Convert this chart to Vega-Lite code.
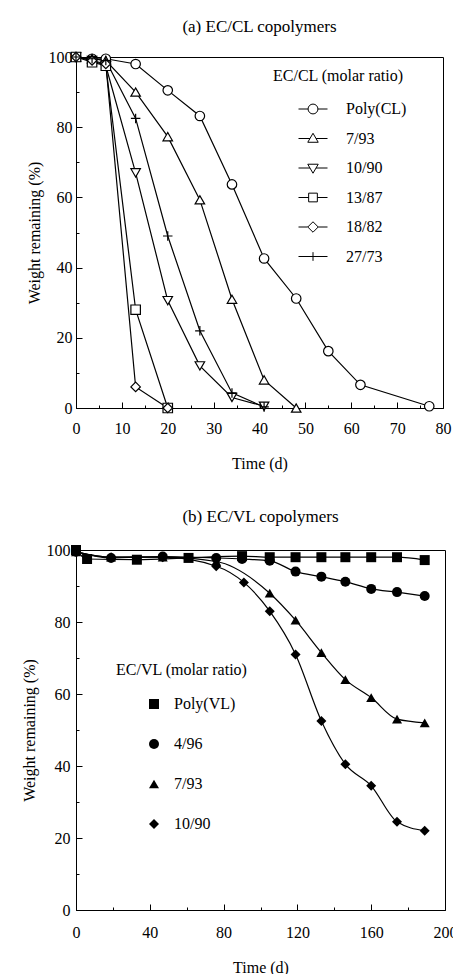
{
  "$schema": "https://vega.github.io/schema/vega-lite/v6.json",
  "background": "white",
  "padding": {"left": 20, "top": 17, "right": 0, "bottom": 0},
  "config": {
    "font": "Liberation Serif",
    "view": {"stroke": "black", "strokeWidth": 1},
    "axis": {
      "grid": false,
      "domainColor": "black",
      "tickColor": "black",
      "labelColor": "black",
      "titleColor": "black",
      "labelFont": "Liberation Serif",
      "titleFont": "Liberation Serif",
      "labelFontSize": 16,
      "titleFontSize": 16,
      "titleFontWeight": "normal",
      "labelPadding": 10,
      "labelOverlap": false,
      "labelFlush": false
    },
    "title": {"font": "Liberation Serif", "fontSize": 17, "fontWeight": "normal", "color": "black"},
    "legend": {
      "labelFont": "Liberation Serif",
      "titleFont": "Liberation Serif",
      "labelFontSize": 16,
      "titleFontSize": 16,
      "titleFontWeight": "normal",
      "labelColor": "black",
      "titleColor": "black",
      "padding": 0
    }
  },
  "datasets": {
    "cl": [
      {"series": "Poly(CL)", "day": 0, "pct": 100},
      {"series": "Poly(CL)", "day": 3.5, "pct": 99.5},
      {"series": "Poly(CL)", "day": 6.5, "pct": 99.5},
      {"series": "Poly(CL)", "day": 13, "pct": 98},
      {"series": "Poly(CL)", "day": 20, "pct": 90.5},
      {"series": "Poly(CL)", "day": 27, "pct": 83.2},
      {"series": "Poly(CL)", "day": 34, "pct": 63.7},
      {"series": "Poly(CL)", "day": 41, "pct": 42.6},
      {"series": "Poly(CL)", "day": 48, "pct": 31.2},
      {"series": "Poly(CL)", "day": 55, "pct": 16.2},
      {"series": "Poly(CL)", "day": 62, "pct": 6.6},
      {"series": "Poly(CL)", "day": 77, "pct": 0.5},
      {"series": "7/93", "day": 0, "pct": 100},
      {"series": "7/93", "day": 3.5, "pct": 99.5},
      {"series": "7/93", "day": 6.5, "pct": 99},
      {"series": "7/93", "day": 13, "pct": 90},
      {"series": "7/93", "day": 20, "pct": 77.3},
      {"series": "7/93", "day": 27, "pct": 59.3},
      {"series": "7/93", "day": 34, "pct": 31},
      {"series": "7/93", "day": 41, "pct": 8},
      {"series": "7/93", "day": 48, "pct": 0},
      {"series": "10/90", "day": 0, "pct": 100},
      {"series": "10/90", "day": 3.5, "pct": 99},
      {"series": "10/90", "day": 6.5, "pct": 97.5},
      {"series": "10/90", "day": 13, "pct": 67},
      {"series": "10/90", "day": 20, "pct": 30.6},
      {"series": "10/90", "day": 27, "pct": 12},
      {"series": "10/90", "day": 34, "pct": 3},
      {"series": "10/90", "day": 41, "pct": 0.5},
      {"series": "13/87", "day": 0, "pct": 100},
      {"series": "13/87", "day": 3.5, "pct": 98.5},
      {"series": "13/87", "day": 6.5, "pct": 97.5},
      {"series": "13/87", "day": 13, "pct": 28},
      {"series": "13/87", "day": 20, "pct": 0},
      {"series": "18/82", "day": 0, "pct": 100},
      {"series": "18/82", "day": 3.5, "pct": 99},
      {"series": "18/82", "day": 6.5, "pct": 98},
      {"series": "18/82", "day": 13, "pct": 6},
      {"series": "18/82", "day": 20, "pct": 0},
      {"series": "27/73", "day": 0, "pct": 100},
      {"series": "27/73", "day": 3.5, "pct": 99.5},
      {"series": "27/73", "day": 6.5, "pct": 99},
      {"series": "27/73", "day": 13, "pct": 82.5},
      {"series": "27/73", "day": 20, "pct": 49},
      {"series": "27/73", "day": 27, "pct": 22},
      {"series": "27/73", "day": 34, "pct": 4.3},
      {"series": "27/73", "day": 41, "pct": 0.3}
    ],
    "vl": [
      {"series": "Poly(VL)", "day": 0, "pct": 100},
      {"series": "Poly(VL)", "day": 6, "pct": 97.5},
      {"series": "Poly(VL)", "day": 33, "pct": 97.3},
      {"series": "Poly(VL)", "day": 61, "pct": 97.8},
      {"series": "Poly(VL)", "day": 90, "pct": 98.3},
      {"series": "Poly(VL)", "day": 105, "pct": 98},
      {"series": "Poly(VL)", "day": 119, "pct": 98},
      {"series": "Poly(VL)", "day": 133, "pct": 98},
      {"series": "Poly(VL)", "day": 146, "pct": 98},
      {"series": "Poly(VL)", "day": 160, "pct": 98},
      {"series": "Poly(VL)", "day": 174, "pct": 98},
      {"series": "Poly(VL)", "day": 189, "pct": 97.2},
      {"series": "4/96", "day": 0, "pct": 99.5},
      {"series": "4/96", "day": 19, "pct": 97.8},
      {"series": "4/96", "day": 47, "pct": 98.2},
      {"series": "4/96", "day": 76, "pct": 97.8},
      {"series": "4/96", "day": 90, "pct": 97.5},
      {"series": "4/96", "day": 105, "pct": 97},
      {"series": "4/96", "day": 119, "pct": 94},
      {"series": "4/96", "day": 133, "pct": 92.6},
      {"series": "4/96", "day": 146, "pct": 91.2},
      {"series": "4/96", "day": 160, "pct": 89.2},
      {"series": "4/96", "day": 174, "pct": 88.3},
      {"series": "4/96", "day": 189, "pct": 87.2},
      {"series": "7/93", "day": 0, "pct": 99.5},
      {"series": "7/93", "day": 19, "pct": 98},
      {"series": "7/93", "day": 47, "pct": 98},
      {"series": "7/93", "day": 76, "pct": 96.8},
      {"series": "7/93", "day": 105, "pct": 88},
      {"series": "7/93", "day": 119, "pct": 80.5},
      {"series": "7/93", "day": 133, "pct": 71.5},
      {"series": "7/93", "day": 146, "pct": 64},
      {"series": "7/93", "day": 160, "pct": 59},
      {"series": "7/93", "day": 174, "pct": 53},
      {"series": "7/93", "day": 189, "pct": 52},
      {"series": "10/90", "day": 0, "pct": 99.5},
      {"series": "10/90", "day": 19, "pct": 98},
      {"series": "10/90", "day": 47, "pct": 98},
      {"series": "10/90", "day": 76, "pct": 95.5},
      {"series": "10/90", "day": 91, "pct": 91},
      {"series": "10/90", "day": 105, "pct": 83},
      {"series": "10/90", "day": 119, "pct": 71},
      {"series": "10/90", "day": 133, "pct": 52.5},
      {"series": "10/90", "day": 146, "pct": 40.5},
      {"series": "10/90", "day": 160, "pct": 34.5},
      {"series": "10/90", "day": 174, "pct": 24.5},
      {"series": "10/90", "day": 189, "pct": 22}
    ]
  },
  "columns": 1,
  "align": "none",
  "spacing": 35,
  "resolve": {"scale": {"shape": "independent"}, "legend": {"shape": "independent"}},
  "concat": [
    {
      "title": {"text": "(a) EC/CL copolymers", "offset": 13},
      "width": 367,
      "height": 351,
      "data": {"name": "cl"},
      "encoding": {
        "x": {
          "field": "day", "type": "quantitative",
          "scale": {"domain": [0, 80], "nice": false},
          "axis": {
            "title": "Time (d)", "titlePadding": 16, "labelPadding": 18,
            "values": [0, 5, 10, 15, 20, 25, 30, 35, 40, 45, 50, 55, 60, 65, 70, 75, 80],
            "labelExpr": "datum.value % 10 === 0 ? datum.label : ''",
            "tickSize": {"condition": {"test": "datum.value % 10 === 0", "value": -6}, "value": -3}
          }
        },
        "y": {
          "field": "pct", "type": "quantitative",
          "scale": {"domain": [0, 100], "nice": false},
          "axis": {
            "title": "Weight remaining (%)", "titlePadding": 6,
            "values": [0, 10, 20, 30, 40, 50, 60, 70, 80, 90, 100],
            "labelExpr": "datum.value % 20 === 0 ? datum.label : ''",
            "tickSize": {"condition": {"test": "datum.value % 20 === 0", "value": -6}, "value": -3}
          }
        }
      },
      "resolve": {"scale": {"shape": "independent"}},
      "layer": [
        {
          "mark": {"type": "line", "color": "black", "strokeWidth": 1.2},
          "encoding": {"detail": {"field": "series"}}
        },
        {
          "mark": {"type": "point", "filled": true, "fill": "white", "stroke": "black", "strokeWidth": 1.2, "size": 90, "opacity": 1},
          "encoding": {
            "shape": {
              "field": "series", "type": "nominal",
              "scale": {
                "domain": ["Poly(CL)", "7/93", "10/90", "13/87", "18/82", "27/73"],
                "range": ["circle", "triangle-up", "triangle-down", "square", "diamond", "M-1,0H1M0,-1V1"]
              },
              "legend": null
            }
          }
        },
        {
          "transform": [{"filter": "datum.day < 0"}],
          "mark": {"type": "point", "filled": true, "fill": "white", "stroke": "black", "strokeWidth": 1, "opacity": 1},
          "encoding": {
            "shape": {
              "field": "series", "type": "nominal",
              "scale": {
                "domain": ["Poly(CL)", "7/93", "10/90", "13/87", "18/82", "27/73"],
                "range": [
                  "M-1,0H-0.34M0.34,0H1M0.34,0A0.34,0.34,0,1,1,-0.34,0A0.34,0.34,0,1,1,0.34,0Z",
                  "M-1,0H-0.21M0.21,0H1M0,-0.36L0.36,0.26L-0.36,0.26Z",
                  "M-1,0H-0.21M0.21,0H1M0,0.36L0.36,-0.26L-0.36,-0.26Z",
                  "M-1,0H-0.3M0.3,0H1M-0.3,-0.3H0.3V0.3H-0.3Z",
                  "M-1,0H-0.36M0.36,0H1M0,-0.36L0.36,0L0,0.36L-0.36,0Z",
                  "M-1,0H1M0,-0.3V0.3"
                ]
              },
              "legend": {
                "title": "EC/CL (molar ratio)",
                "orient": "none",
                "legendX": 197,
                "legendY": 11,
                "symbolSize": 841,
                "symbolOffset": 25,
                "labelOffset": 18,
                "rowPadding": 6.5,
                "titlePadding": 10,
                "symbolStrokeWidth": 1
              }
            }
          }
        }
      ]
    },
    {
      "title": {"text": "(b) EC/VL copolymers", "offset": 16},
      "width": 369,
      "height": 360,
      "data": {"name": "vl"},
      "encoding": {
        "x": {
          "field": "day", "type": "quantitative",
          "scale": {"domain": [0, 200], "nice": false},
          "axis": {
            "title": "Time (d)", "titlePadding": 16, "labelPadding": 20,
            "values": [0, 20, 40, 60, 80, 100, 120, 140, 160, 180, 200],
            "labelExpr": "datum.value % 40 === 0 ? datum.label : ''",
            "tickSize": {"condition": {"test": "datum.value % 40 === 0", "value": -6}, "value": -3}
          }
        },
        "y": {
          "field": "pct", "type": "quantitative",
          "scale": {"domain": [0, 100], "nice": false},
          "axis": {
            "title": "Weight remaining (%)", "titlePadding": 9, "labelPadding": 12,
            "values": [0, 10, 20, 30, 40, 50, 60, 70, 80, 90, 100],
            "labelExpr": "datum.value % 20 === 0 ? datum.label : ''",
            "tickSize": {"condition": {"test": "datum.value % 20 === 0", "value": -6}, "value": -3}
          }
        }
      },
      "layer": [
        {
          "mark": {"type": "line", "color": "black", "strokeWidth": 1.2, "interpolate": "monotone"},
          "encoding": {"detail": {"field": "series"}}
        },
        {
          "mark": {"type": "point", "filled": true, "color": "black", "size": 100, "opacity": 1},
          "encoding": {
            "shape": {
              "field": "series", "type": "nominal",
              "scale": {
                "domain": ["Poly(VL)", "4/96", "7/93", "10/90"],
                "range": ["square", "circle", "triangle-up", "diamond"]
              },
              "legend": {
                "title": "EC/VL (molar ratio)",
                "orient": "none",
                "legendX": 40,
                "legendY": 112,
                "symbolSize": 100,
                "symbolOffset": 30,
                "labelOffset": 12,
                "rowPadding": 24,
                "titlePadding": 18
              }
            }
          }
        }
      ]
    }
  ]
}
